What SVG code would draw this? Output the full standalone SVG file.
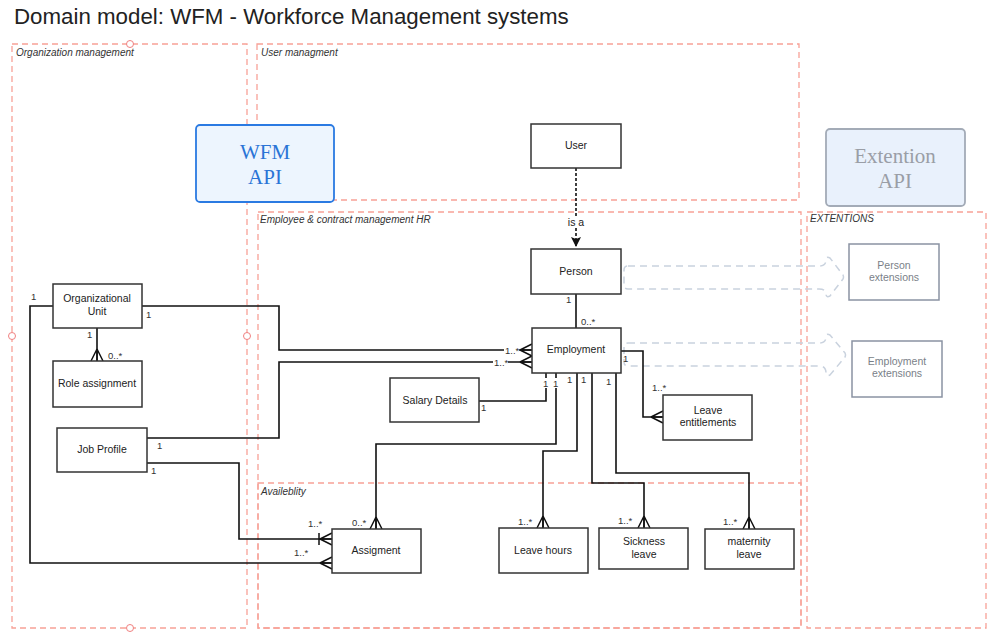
<svg xmlns="http://www.w3.org/2000/svg" width="999" height="642" viewBox="0 0 999 642">
<style>
.bg{fill:#ffffff}
.cont{fill:none;stroke:#f8a197;stroke-width:1.3;stroke-dasharray:6,4}
.clab{font-family:"Liberation Sans",Arial,sans-serif;font-size:10px;font-style:italic;fill:#333}
.handle{fill:#fff;stroke:#f08080;stroke-width:1}
.node{fill:#fff;stroke:#333;stroke-width:1.5}
.ntxt{font-family:"Liberation Sans",Arial,sans-serif;font-size:10.5px;fill:#222;text-anchor:middle}
.ext{fill:#fff;stroke:#8a93a3;stroke-width:1.5}
.etxt{font-family:"Liberation Sans",Arial,sans-serif;font-size:10.5px;fill:#7a7f88;text-anchor:middle}
.conn{fill:none;stroke:#111;stroke-width:1.6}
.lab{font-family:"Liberation Sans",Arial,sans-serif;font-size:9.5px;fill:#333}
.blk{fill:none;stroke:#c9d2de;stroke-width:1.5;stroke-dasharray:7,5}
</style>
<defs>
<marker id="crow" markerUnits="userSpaceOnUse" markerWidth="16" markerHeight="16" viewBox="0 0 16 16" refX="14" refY="8" orient="auto">
<path d="M2,8 L14,2 M2,8 L14,8 M2,8 L14,14" fill="none" stroke="#111" stroke-width="1.5"/>
</marker>
<marker id="crowbar" markerUnits="userSpaceOnUse" markerWidth="18" markerHeight="18" viewBox="0 0 18 18" refX="16" refY="9" orient="auto">
<path d="M4,9 L16,3 M4,9 L16,9 M4,9 L16,15 M3,3 L3,15" fill="none" stroke="#111" stroke-width="1.5"/>
</marker>
<marker id="arr" markerUnits="userSpaceOnUse" markerWidth="12" markerHeight="12" viewBox="0 0 12 12" refX="11" refY="6" orient="auto">
<path d="M1,1 L11,6 L1,11 L3,6 Z" fill="#111"/>
</marker>
</defs>
<rect class="bg" x="0" y="0" width="999" height="642"/>
<text x="14" y="24" font-family="'Liberation Sans',Arial,sans-serif" font-size="22.3" fill="#222">Domain model: WFM - Workforce Management systems</text>

<g id="containers">
<rect class="cont" x="12" y="44" width="235" height="584"/>
<rect class="cont" x="257" y="44" width="542" height="156"/>
<rect class="cont" x="258" y="212" width="543" height="416"/>
<rect class="cont" x="258" y="483" width="543" height="145"/>
<rect class="cont" x="807" y="212" width="179" height="416"/>
<circle class="handle" cx="130" cy="44" r="3.5"/>
<circle class="handle" cx="12" cy="336" r="3.5"/>
<circle class="handle" cx="247" cy="336" r="3.5"/>
<circle class="handle" cx="130" cy="628" r="3.5"/>
<text class="clab" x="16" y="56">Organization management</text>
<text class="clab" x="261" y="56">User managment</text>
<text class="clab" x="260" y="223">Employee &amp; contract management HR</text>
<text class="clab" x="810" y="222">EXTENTIONS</text>
<text class="clab" x="261" y="495">Availeblity</text>
</g>

<g id="wfm-api">
<rect x="196" y="125" width="138" height="77" rx="4" fill="#edf5fe" stroke="#2a7ae2" stroke-width="1.8"/>
<text x="265" y="159" font-family="'Liberation Serif','DejaVu Serif',serif" font-size="21" fill="#2a74d6" text-anchor="middle">WFM</text>
<text x="265" y="184" font-family="'Liberation Serif','DejaVu Serif',serif" font-size="21" fill="#2a74d6" text-anchor="middle">API</text>
</g>
<g id="extention-api">
<rect x="826" y="129" width="139" height="77" rx="4" fill="#e9f1fc" stroke="#a3abb7" stroke-width="1.8"/>
<text x="895" y="163" font-family="'Liberation Serif','DejaVu Serif',serif" font-size="21" fill="#9a9ea6" text-anchor="middle">Extention</text>
<text x="895" y="188" font-family="'Liberation Serif','DejaVu Serif',serif" font-size="21" fill="#9a9ea6" text-anchor="middle">API</text>
</g>

<g id="ext-arrows">
<path class="blk" d="M628,266 L819,266 Q826,266 826,260 Q826,256 830,258 L843,275 Q844,277 843,279 L830,296 Q826,298 826,294 Q826,289 819,289 L628,289 Q624,289 624,285 L624,270 Q624,266 628,266 Z"/>
<path class="blk" d="M628,343 L819,343 Q826,343 826,337 Q826,333 830,335 L845,353 Q846,355 845,357 L830,375 Q826,377 826,373 Q826,366 819,366 L628,366 Q624,366 624,362 L624,347 Q624,343 628,343 Z"/>
</g>

<g id="connectors">
<path class="conn" d="M576,168 V247" stroke-dasharray="3,2" stroke-width="2" marker-end="url(#arr)"/>
<path class="conn" d="M576,294 V328"/>
<path class="conn" d="M142,306 H279 V350 H532" marker-end="url(#crow)"/>
<path class="conn" d="M147,438 H279 V362 H532" marker-end="url(#crow)"/>
<path class="conn" d="M53,306 H30 V563 H332" marker-end="url(#crow)"/>
<path class="conn" d="M147,463 H239 V539 H332" marker-end="url(#crowbar)"/>
<path class="conn" d="M556,373 V444 H376 V529" marker-end="url(#crow)"/>
<path class="conn" d="M546,373 V401 H479"/>
<path class="conn" d="M577,373 V451 H543 V528" marker-end="url(#crow)"/>
<path class="conn" d="M592,373 V483 H644 V528" marker-end="url(#crow)"/>
<path class="conn" d="M616,373 V473 H749 V529" marker-end="url(#crow)"/>
<path class="conn" d="M621,351 H643 V417 H663" marker-end="url(#crow)"/>
<path class="conn" d="M97,328 V361" marker-end="url(#crow)"/>
<rect x="566" y="216" width="20" height="12" fill="#fff"/>
<text class="ntxt" x="576" y="226">is a</text>
<text class="lab" x="566" y="303">1</text>
<text class="lab" x="581" y="325">0..*</text>
<text class="lab" x="146" y="318">1</text>
<rect x="504" y="345" width="15" height="10" fill="#fff"/>
<text class="lab" x="505" y="354">1..*</text>
<text class="lab" x="157" y="449">1</text>
<rect x="493" y="357" width="15" height="10" fill="#fff"/>
<text class="lab" x="494" y="366">1..*</text>
<text class="lab" x="31" y="300">1</text>
<text class="lab" x="294" y="556">1..*</text>
<text class="lab" x="308" y="527">1..*</text>
<text class="lab" x="151" y="474">1</text>
<text class="lab" x="352" y="526">0..*</text>
<rect x="552" y="378" width="8" height="10" fill="#fff"/>
<text class="lab" x="553" y="387">1</text>
<rect x="542" y="378" width="8" height="10" fill="#fff"/>
<text class="lab" x="543" y="387">1</text>
<text class="lab" x="481" y="411">1</text>
<text class="lab" x="518" y="525">1..*</text>
<text class="lab" x="567" y="383">1</text>
<text class="lab" x="618" y="524">1..*</text>
<text class="lab" x="581" y="383">1</text>
<text class="lab" x="723" y="525">1..*</text>
<text class="lab" x="606" y="385">1</text>
<text class="lab" x="623" y="362">1</text>
<text class="lab" x="652" y="391">1..*</text>
<text class="lab" x="87" y="338">1</text>
<text class="lab" x="108" y="359">0..*</text>
</g>

<g id="user"><rect class="node" x="531" y="124" width="90" height="44"/><text class="ntxt" x="576" y="149">User</text></g>
<g id="person"><rect class="node" x="531" y="249" width="90" height="45"/><text class="ntxt" x="576" y="275">Person</text></g>
<g id="employment"><rect class="node" x="532" y="328" width="89" height="45"/><text class="ntxt" x="576" y="353">Employment</text></g>
<g id="salary-details"><rect class="node" x="390" y="378" width="89" height="44"/><text class="ntxt" x="435" y="404">Salary Details</text></g>
<g id="leave-entitlements"><rect class="node" x="663" y="395" width="89" height="45"/><text class="ntxt" x="708" y="414">Leave</text><text class="ntxt" x="708" y="426">entitlements</text></g>
<g id="organizational-unit"><rect class="node" x="53" y="284" width="89" height="44"/><text class="ntxt" x="97" y="302">Organizational</text><text class="ntxt" x="97" y="315">Unit</text></g>
<g id="role-assignment"><rect class="node" x="53" y="361" width="89" height="46"/><text class="ntxt" x="97" y="387">Role assignment</text></g>
<g id="job-profile"><rect class="node" x="57" y="428" width="90" height="44"/><text class="ntxt" x="102" y="453">Job Profile</text></g>
<g id="assigment"><rect class="node" x="332" y="529" width="89" height="44"/><text class="ntxt" x="376" y="554">Assigment</text></g>
<g id="leave-hours"><rect class="node" x="499" y="528" width="89" height="45"/><text class="ntxt" x="543" y="554">Leave hours</text></g>
<g id="sickness-leave"><rect class="node" x="599" y="528" width="89" height="41"/><text class="ntxt" x="644" y="545">Sickness</text><text class="ntxt" x="644" y="558">leave</text></g>
<g id="maternity-leave"><rect class="node" x="705" y="529" width="89" height="40"/><text class="ntxt" x="749" y="545">maternity</text><text class="ntxt" x="749" y="558">leave</text></g>
<g id="person-extensions"><rect class="ext" x="849" y="244" width="90" height="56"/><text class="etxt" x="894" y="269">Person</text><text class="etxt" x="894" y="281">extensions</text></g>
<g id="employment-extensions"><rect class="ext" x="852" y="341" width="90" height="56"/><text class="etxt" x="897" y="365">Employment</text><text class="etxt" x="897" y="377">extensions</text></g>
</svg>
